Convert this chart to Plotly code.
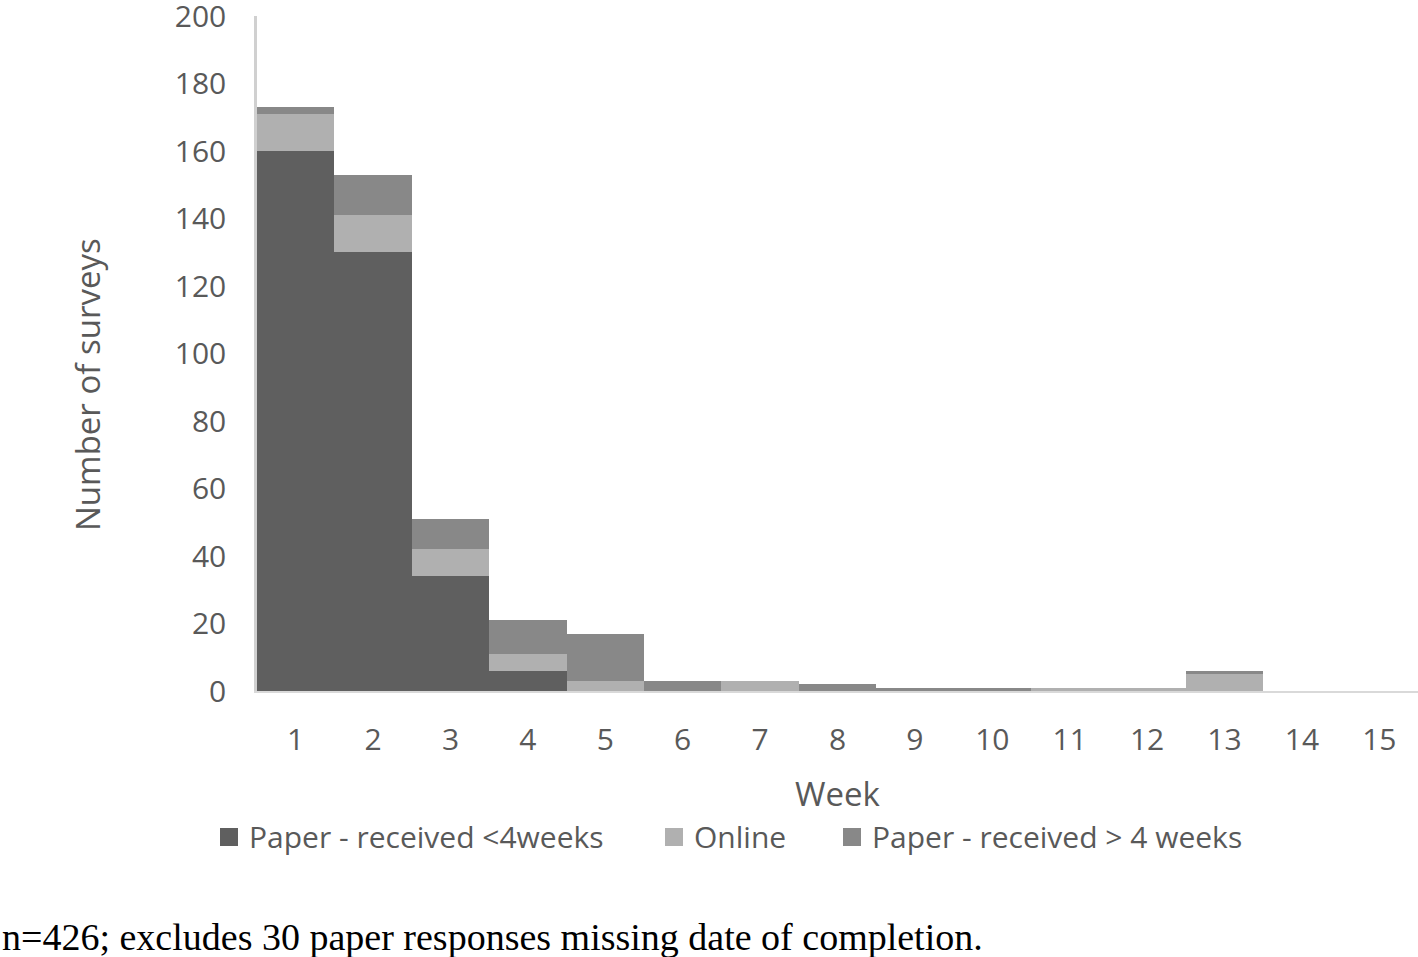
import plotly.graph_objects as go

weeks = list(range(1, 16))
paper_lt4 = [160, 130, 34, 6, 0, 0, 0, 0, 0, 0, 0, 0, 0, 0, 0]
online = [11, 11, 8, 5, 3, 0, 3, 0, 0, 0, 1, 1, 5, 0, 0]
paper_gt4 = [2, 12, 9, 10, 14, 3, 0, 2, 1, 1, 0, 0, 1, 0, 0]
series_names = ["Paper - received <4weeks", "Online", "Paper - received > 4 weeks"]
series_colors = ["#5f5f5f", "#b0b0b0", "#888888"]
y_ticks = list(range(0, 201, 20))

W, H = 1418, 957
L, R, T, B = 257, 0, 16, 266
pw, ph = W - L - R, H - T - B


def px(x):
    return (x - L) / pw


def py(y):
    return (H - B - y) / ph


font_main = "Open Sans, Noto Sans, sans-serif"
txt_col = "#595959"

fig = go.Figure()
for name, vals, col in zip(series_names, [paper_lt4, online, paper_gt4], series_colors):
    fig.add_trace(go.Bar(x=weeks, y=vals, name=name, marker=dict(color=col, line=dict(width=0)),
                         showlegend=False))

fig.update_layout(
    width=W, height=H,
    margin=dict(l=L, r=R, t=T, b=B, pad=0, autoexpand=False),
    barmode="stack", bargap=0,
    plot_bgcolor="white", paper_bgcolor="white",
    font=dict(family=font_main, color=txt_col, size=30),
)
fig.update_xaxes(
    range=[0.5, 15.5], tickmode="array", tickvals=weeks, ticktext=[str(w) for w in weeks],
    showgrid=False, zeroline=False, showline=True, linecolor="#d9d9d9", linewidth=2,
    ticks="", ticklabelstandoff=21, automargin=False, tickfont=dict(size=30, color=txt_col),
)
fig.update_yaxes(
    range=[0, 200], tickmode="array", tickvals=y_ticks,
    showgrid=False, zeroline=False, showline=True, linecolor="#d0d0d0", linewidth=2.5,
    ticks="", ticklabelstandoff=22, ticklabeloverflow="allow", automargin=False,
    tickfont=dict(size=30, color=txt_col),
)

annotations = [
    dict(text="Week", x=px(838), y=py(793), xref="paper", yref="paper", showarrow=False,
         font=dict(size=33, color=txt_col), xanchor="center", yanchor="middle"),
    dict(text="Number of surveys", x=px(87), y=py(385), xref="paper", yref="paper", showarrow=False,
         textangle=-90, font=dict(size=33, color=txt_col), xanchor="center", yanchor="middle"),
    dict(text="n=426; excludes 30 paper responses missing date of completion.", x=px(0), y=py(937),
         xref="paper", yref="paper", showarrow=False,
         font=dict(family="Liberation Serif, Times New Roman, serif", size=38, color="black"),
         xanchor="left", yanchor="middle"),
]
shapes = []
legend_sq_x = [220, 665, 843]
for name, col, sx in zip(series_names, series_colors, legend_sq_x):
    shapes.append(dict(type="rect", xref="paper", yref="paper", x0=px(sx), x1=px(sx + 18),
                       y0=py(846), y1=py(828), fillcolor=col, line=dict(width=0)))
    annotations.append(dict(text=name, x=px(sx + 27), y=py(837), xref="paper", yref="paper",
                            showarrow=False, xanchor="left", yanchor="middle",
                            font=dict(size=30, color=txt_col)))
fig.update_layout(annotations=annotations, shapes=shapes)

fig.write_html("out.html", config={"displayModeBar": False},
               post_script="document.body.style.margin='0';document.body.style.overflow='hidden';")
